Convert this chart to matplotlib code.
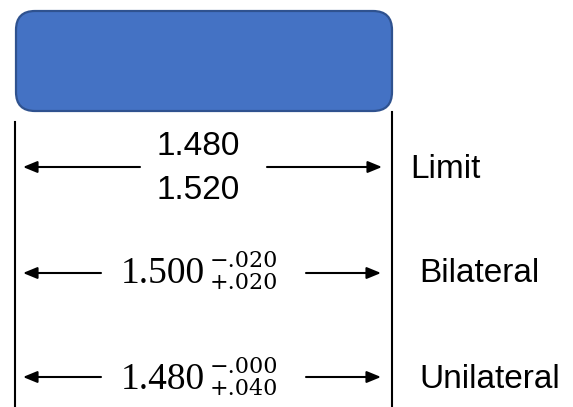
import matplotlib.pyplot as plt
from matplotlib.patches import FancyBboxPatch

# data of the drawing
row_names = ['Limit', 'Bilateral', 'Unilateral']
limit_values = ['1.480', '1.520']
nominals = ['1.500', '1.480']
upper_tol = ['\u2212.020', '\u2212.000']
lower_tol = ['+.020', '+.040']

# pixel layout (y counted from the top)
row_y = [167, 273, 377]
name_base = [178, 282, 388]

fig = plt.figure(figsize=(5.73, 4.07), dpi=100)
ax = fig.add_axes([0, 0, 1, 1])
ax.set_xlim(0, 573)
ax.set_ylim(407, 0)
ax.axis('off')

# the part
box = FancyBboxPatch((16, 11), 376, 100, boxstyle='round,pad=0,rounding_size=19',
                     fc='#4472C4', ec='#2F528F', lw=1.6)
ax.add_patch(box)

# extension lines
ax.plot([15, 15], [122, 407], color='black', lw=1.5)
ax.plot([392, 392], [112, 407], color='black', lw=1.5)

sans = 'Liberation Sans'
serif = 'Liberation Serif'
arr = dict(arrowstyle='-|>,head_length=0.85,head_width=0.35', color='black', lw=1.5,
           shrinkA=0, shrinkB=0)

# limit row
y = row_y[0]
ax.annotate('', xy=(23, y), xytext=(140, y), arrowprops=arr)
ax.annotate('', xy=(382, y), xytext=(267, y), arrowprops=arr)
ax.text(198, 155, limit_values[0], fontsize=24, family=sans, ha='center', va='baseline')
ax.text(198, 199, limit_values[1], fontsize=24, family=sans, ha='center', va='baseline')
ax.text(410, name_base[0], row_names[0], fontsize=24, family=sans, ha='left', va='baseline')

# tolerance rows
for i in range(2):
    y = row_y[i + 1]
    b = name_base[i + 1]
    ax.annotate('', xy=(23, y), xytext=(101, y), arrowprops=arr)
    ax.annotate('', xy=(381, y), xytext=(306, y), arrowprops=arr)
    ax.text(121, b + 1, nominals[i], fontsize=27, family=serif, ha='left', va='baseline')
    ax.text(210, b - 15, upper_tol[i], fontsize=16, family='DejaVu Serif', ha='left', va='baseline')
    ax.text(210, b + 7, lower_tol[i], fontsize=16, family='DejaVu Serif', ha='left', va='baseline')
    ax.text(419, b, row_names[i + 1], fontsize=24, family=sans, ha='left', va='baseline')

fig.savefig('out.png', dpi=100)
